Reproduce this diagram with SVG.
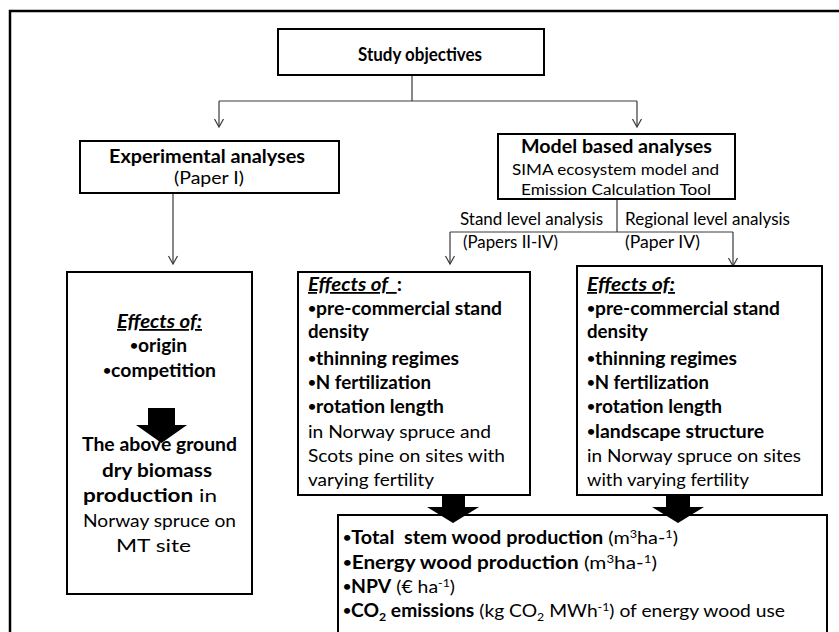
<svg xmlns="http://www.w3.org/2000/svg" width="839" height="632" viewBox="0 0 839 632">
<style>
text{font-family:Lato,"Liberation Sans",sans-serif;font-size:18px;fill:#000}
.b{font-weight:bold}
.bi{font-weight:bold;font-style:italic}
.u{text-decoration:underline}
.sm{font-size:15.5px}
.box{fill:#fff;stroke:#000;stroke-width:2}
.con{fill:none;stroke:#3a3a3a;stroke-width:1.2}
.sup{font-size:11.5px}
.dot{font-size:13px;baseline-shift:2px}
.pre{white-space:pre}
</style>
<defs>
<marker id="ah" markerUnits="userSpaceOnUse" markerWidth="12" markerHeight="12" viewBox="-10 -6 12 12" refX="0" refY="0" orient="auto">
<path d="M-8,-4.5 L0,0 L-8,4.5" fill="none" stroke="#3a3a3a" stroke-width="1.2"/>
</marker>
</defs>
<rect x="10" y="11" width="850" height="650" fill="none" stroke="#000" stroke-width="2.5"/>

<g id="connectors">
<path class="con" d="M412,75 V101 M219,101 H637"/>
<path class="con" d="M219,101 V127" marker-end="url(#ah)"/>
<path class="con" d="M637,101 V127" marker-end="url(#ah)"/>
<path class="con" d="M173,193 V264" marker-end="url(#ah)"/>
<path class="con" d="M617,199 V232 M450,232 H733"/>
<path class="con" d="M450,232 V264" marker-end="url(#ah)"/>
<path class="con" d="M733,232 V266" marker-end="url(#ah)"/>
</g>

<g id="study-objectives">
<rect class="box" x="278" y="29" width="266" height="46"/>
<text class="b" x="358" y="61" textLength="124" lengthAdjust="spacingAndGlyphs">Study objectives</text>
</g>

<g id="experimental-analyses">
<rect class="box" x="80" y="141" width="259" height="52"/>
<text class="b" x="109" y="163" textLength="196" lengthAdjust="spacingAndGlyphs">Experimental analyses</text>
<text x="174" y="184" textLength="70" lengthAdjust="spacingAndGlyphs">(Paper I)</text>
</g>

<g id="model-based-analyses">
<rect class="box" x="498" y="134" width="237" height="65"/>
<text class="b" x="521" y="153" textLength="191" lengthAdjust="spacingAndGlyphs">Model based analyses</text>
<text class="sm" x="512" y="175" textLength="207" lengthAdjust="spacingAndGlyphs">SIMA ecosystem model and</text>
<text class="sm" x="521" y="195" textLength="190" lengthAdjust="spacingAndGlyphs">Emission Calculation Tool</text>
</g>

<g id="labels">
<text x="460" y="225" textLength="143" lengthAdjust="spacingAndGlyphs">Stand level analysis</text>
<text x="463" y="248" textLength="95" lengthAdjust="spacingAndGlyphs">(Papers II-IV)</text>
<text x="625" y="225" textLength="165" lengthAdjust="spacingAndGlyphs">Regional level analysis</text>
<text x="625" y="248" textLength="75" lengthAdjust="spacingAndGlyphs">(Paper IV)</text>
</g>

<g id="experimental-effects">
<rect class="box" x="67" y="272" width="185" height="322"/>
<text class="bi u" x="117" y="328" textLength="85" lengthAdjust="spacingAndGlyphs">Effects of:</text>
<text class="b" x="130" y="352" textLength="57" lengthAdjust="spacingAndGlyphs"><tspan class="dot">•</tspan>origin</text>
<text class="b" x="103" y="377" textLength="113" lengthAdjust="spacingAndGlyphs"><tspan class="dot">•</tspan>competition</text>
<polygon points="148,408 175,408 175,425 187,425 161.5,443 136,425 148,425" fill="#000"/>
<text class="b" x="82" y="451" textLength="155" lengthAdjust="spacingAndGlyphs">The above ground</text>
<text class="b" x="102" y="477" textLength="110" lengthAdjust="spacingAndGlyphs">dry biomass</text>
<text x="83" y="502" textLength="134" lengthAdjust="spacingAndGlyphs"><tspan class="b">production</tspan> in</text>
<text x="83" y="527" textLength="153" lengthAdjust="spacingAndGlyphs">Norway spruce on</text>
<text x="116" y="552" textLength="75" lengthAdjust="spacingAndGlyphs">MT site</text>
</g>

<g id="stand-level-effects">
<rect class="box" x="298" y="272" width="232" height="223"/>
<text class="pre" x="308" y="291" textLength="94" lengthAdjust="spacingAndGlyphs"><tspan class="bi u">Effects of  </tspan><tspan class="b">:</tspan></text>
<text class="b" x="308" y="315" textLength="194" lengthAdjust="spacingAndGlyphs"><tspan class="dot">•</tspan>pre-commercial stand</text>
<text class="b" x="308" y="338" textLength="61" lengthAdjust="spacingAndGlyphs">density</text>
<text class="b" x="308" y="365" textLength="151" lengthAdjust="spacingAndGlyphs"><tspan class="dot">•</tspan>thinning regimes</text>
<text class="b" x="308" y="389" textLength="123" lengthAdjust="spacingAndGlyphs"><tspan class="dot">•</tspan>N fertilization</text>
<text class="b" x="308" y="413" textLength="136" lengthAdjust="spacingAndGlyphs"><tspan class="dot">•</tspan>rotation length</text>
<text x="308" y="438" textLength="183" lengthAdjust="spacingAndGlyphs">in Norway spruce and</text>
<text x="308" y="462" textLength="197" lengthAdjust="spacingAndGlyphs">Scots pine on sites with</text>
<text x="308" y="486" textLength="126" lengthAdjust="spacingAndGlyphs">varying fertility</text>
</g>

<g id="regional-level-effects">
<rect class="box" x="577" y="266" width="245" height="229"/>
<text class="bi u" x="587" y="291" textLength="88" lengthAdjust="spacingAndGlyphs">Effects of:</text>
<text class="b" x="587" y="315" textLength="193" lengthAdjust="spacingAndGlyphs"><tspan class="dot">•</tspan>pre-commercial stand</text>
<text class="b" x="587" y="338" textLength="61" lengthAdjust="spacingAndGlyphs">density</text>
<text class="b" x="587" y="365" textLength="150" lengthAdjust="spacingAndGlyphs"><tspan class="dot">•</tspan>thinning regimes</text>
<text class="b" x="587" y="389" textLength="122" lengthAdjust="spacingAndGlyphs"><tspan class="dot">•</tspan>N fertilization</text>
<text class="b" x="587" y="413" textLength="135" lengthAdjust="spacingAndGlyphs"><tspan class="dot">•</tspan>rotation length</text>
<text class="b" x="587" y="438" textLength="177" lengthAdjust="spacingAndGlyphs"><tspan class="dot">•</tspan>landscape structure</text>
<text x="587" y="462" textLength="214" lengthAdjust="spacingAndGlyphs">in Norway spruce on sites</text>
<text x="587" y="486" textLength="162" lengthAdjust="spacingAndGlyphs">with varying fertility</text>
</g>

<g id="outcomes">
<rect class="box" x="338" y="515" width="489" height="150"/>
<text class="pre" x="343" y="544" textLength="335" lengthAdjust="spacingAndGlyphs"><tspan class="b"><tspan class="dot">•</tspan>Total  stem wood production</tspan> (m<tspan class="sup" dy="-6">3</tspan><tspan dy="6">ha-</tspan><tspan class="sup" dy="-6">1</tspan><tspan dy="6">)</tspan></text>
<text x="343" y="569" textLength="314" lengthAdjust="spacingAndGlyphs"><tspan class="b"><tspan class="dot">•</tspan>Energy wood production</tspan> (m<tspan class="sup" dy="-6">3</tspan><tspan dy="6">ha-</tspan><tspan class="sup" dy="-6">1</tspan><tspan dy="6">)</tspan></text>
<text x="343" y="593" textLength="112" lengthAdjust="spacingAndGlyphs"><tspan class="b"><tspan class="dot">•</tspan>NPV</tspan> (€ ha<tspan class="sup" dy="-6">-1</tspan><tspan dy="6">)</tspan></text>
<text x="343" y="617" textLength="442" lengthAdjust="spacingAndGlyphs"><tspan class="b"><tspan class="dot">•</tspan>CO</tspan><tspan class="b sup" dy="4">2</tspan><tspan class="b" dy="-4"> emissions</tspan> (kg CO<tspan class="sup" dy="4">2</tspan><tspan dy="-4"> MWh</tspan><tspan class="sup" dy="-6">-1</tspan><tspan dy="6">) of energy wood use</tspan></text>
</g>

<g id="outcome-arrows">
<polygon points="442,495 465,495 465,507 479,507 453,523 427,507 442,507" fill="#000"/>
<polygon points="666,495 690,495 690,507 704,507 678,523 652,507 666,507" fill="#000"/>
</g>
</svg>
